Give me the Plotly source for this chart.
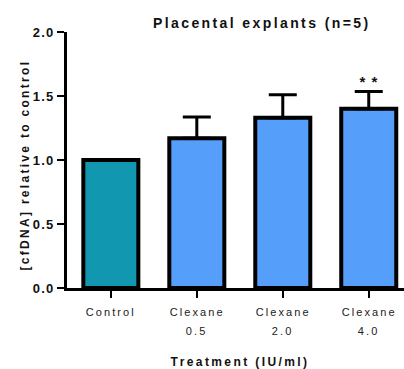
import plotly.graph_objects as go

categories = ["Control", "Clexane 0.5", "Clexane 2.0", "Clexane 4.0"]
label_line1 = ["Control", "Clexane", "Clexane", "Clexane"]
label_line2 = ["", "0.5", "2.0", "4.0"]
means = [1.0, 1.17, 1.33, 1.40]
sem = [0.0, 0.165, 0.18, 0.135]
bar_colors = ["#1297B1", "#559EF9", "#559EF9", "#559EF9"]
significance = ["", "", "", "* *"]
sig_y = 1.61
y_ticks = [0.0, 0.5, 1.0, 1.5, 2.0]

FONT = "Liberation Sans, Arial"

fig = go.Figure()
fig.add_trace(go.Bar(
    x=categories, y=means,
    width=0.64,
    marker=dict(color=bar_colors, line=dict(color="black", width=4)),
    error_y=dict(type="data", array=sem, arrayminus=[0] * len(sem), symmetric=False,
                 color="black", thickness=3, width=14),
    showlegend=False,
))

annotations = []
for i, c in enumerate(categories):
    annotations.append(dict(x=c, xref="x", y=-0.094, yref="paper", text=label_line1[i],
                            showarrow=False, xanchor="center", yanchor="middle",
                            font=dict(family=FONT, size=11, color="#222")))
    if label_line2[i]:
        annotations.append(dict(x=c, xref="x", y=-0.168, yref="paper", text=label_line2[i],
                                showarrow=False, xanchor="center", yanchor="middle",
                                font=dict(family=FONT, size=11, color="#222")))
    if significance[i]:
        annotations.append(dict(x=c, xref="x", y=sig_y, yref="y", text="<b>" + significance[i] + "</b>",
                                showarrow=False, xanchor="center", yanchor="middle",
                                font=dict(family=FONT, size=15, color="#111")))

annotations.append(dict(x=0.513, xref="paper", y=-0.289, yref="paper",
                        text="<b>Treatment (IU/ml)</b>", showarrow=False,
                        xanchor="center", yanchor="middle",
                        font=dict(family=FONT, size=12, color="#111")))
annotations.append(dict(x=-0.1246, xref="paper", y=0.0586, yref="paper",
                        text="<b>[cfDNA] relative to control</b>", showarrow=False,
                        textangle=-90, xanchor="center", yanchor="bottom", align="left",
                        font=dict(family=FONT, size=12, color="#111")))

fig.update_layout(
    width=404, height=369,
    margin=dict(l=67, r=0, t=32, b=81),
    paper_bgcolor="white", plot_bgcolor="white",
    title=dict(text="<b>Placental explants (n=5)</b>", x=153 / 404, xref="container", xanchor="left",
               y=1 - 23 / 369, yref="container", yanchor="middle",
               font=dict(family=FONT, size=14, color="#111")),
    xaxis=dict(range=[-0.51, 3.41], showticklabels=False, ticks="outside", ticklen=7,
               tickwidth=2, tickcolor="black", showline=True, linecolor="black", linewidth=3,
               showgrid=False, zeroline=False, fixedrange=True),
    yaxis=dict(range=[0, 2], tickvals=y_ticks, ticktext=["<b>%.1f</b>" % v for v in y_ticks],
               ticks="outside", ticklen=7, tickwidth=2, tickcolor="black",
               showline=True, linecolor="black", linewidth=3, showgrid=False, zeroline=False,
               tickfont=dict(family=FONT, size=13, color="#111"),
               fixedrange=True),
    annotations=annotations,
    bargap=0.36,
)

post = """
var gd = document.getElementById('{plot_id}');
function sp(){
  gd.querySelectorAll('.annotation-text').forEach(function(t){
    var fs = parseFloat(t.style.fontSize || '11');
    var txt = t.textContent || '';
    var s = fs >= 15 ? '1px' : (fs >= 12 ? '2.4px' : '2.1px');
    if (txt.indexOf('cfDNA') >= 0) { s = '2.3px'; }
    t.style.letterSpacing = s;
  });
  gd.querySelectorAll('.gtitle').forEach(function(t){ t.style.letterSpacing='2.4px'; });
  gd.querySelectorAll('.ytick text').forEach(function(t){ t.style.letterSpacing='1.2px'; });
}
sp();
"""
fig.write_html("out.html", config={"displayModeBar": False, "responsive": False}, post_script=post)
